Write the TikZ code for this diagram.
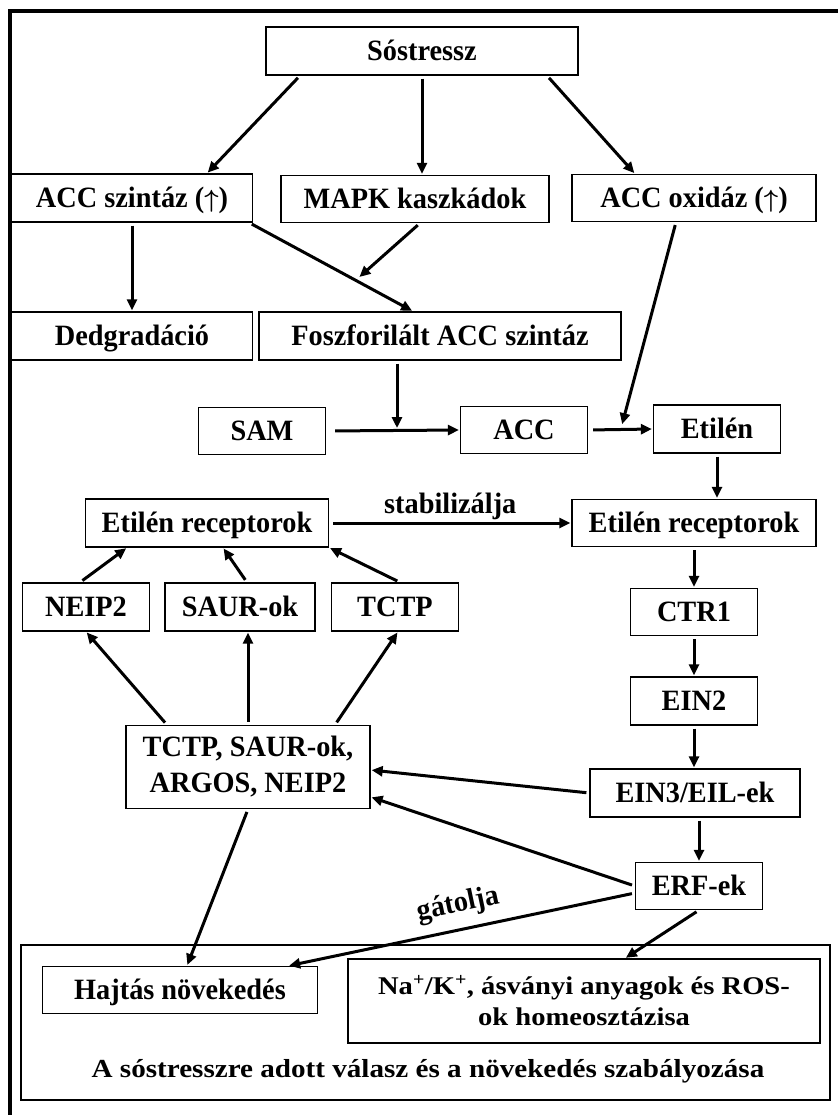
\documentclass[tikz,border=0pt]{standalone}
\usepackage{fontspec}
\usepackage{bm}
\setmainfont{Liberation Serif}[FakeStretch=0.96]
\newfontfamily\widefont{Liberation Serif}[FakeStretch=1.12]
\usetikzlibrary{arrows.meta}
\begin{document}
\begin{tikzpicture}[x=1pt,y=-1pt,
  every node/.style={font=\fontsize{29.5}{36}\selectfont\bfseries},
  box/.style={draw,line width=1.3pt,minimum height=48pt,inner sep=1pt,text height=19.5pt,text depth=0pt},
  box2/.style={draw,line width=1.3pt,inner sep=1pt,align=center},
  lbl/.style={inner sep=2pt},
  arr/.style={line width=3pt,-{Triangle[length=11pt,width=10pt]},shorten <=3pt,shorten >=1pt}]
\useasboundingbox (0,0) rectangle (837,1115);
\draw[line width=4pt] (842,11)--(10,11)--(10,1120);
\node[box,minimum width=312pt] (sos) at (422,51) {Sóstressz};
\node[box,minimum width=241pt] (accsz) at (132,198) {ACC szintáz ($\bm{\uparrow}$)};
\node[box,minimum width=268pt,minimum height=47pt] (mapk) at (415,199) {MAPK kaszkádok};
\node[box,minimum width=244pt,minimum height=47pt] (accox) at (694,198) {ACC oxidáz ($\bm{\uparrow}$)};
\node[box,minimum width=241pt] (degr) at (132,336) {Dedgradáció};
\node[box,minimum width=362pt] (foszf) at (440,336) {Foszforilált ACC szintáz};
\node[box,minimum width=127pt,minimum height=47pt] (sam) at (262,431) {SAM};
\node[box,minimum width=127pt,minimum height=47pt] (acc) at (524,430) {ACC};
\node[box,minimum width=127pt] (etil) at (717,429) {Etilén};
\node[box,minimum width=243pt] (recl) at (207,523) {Etilén receptorok};
\node[box,minimum width=244pt,minimum height=47pt] (recr) at (694,523) {Etilén receptorok};
\node[box,minimum width=127pt] (neip) at (86,607) {NEIP2};
\node[box,minimum width=150pt] (saur) at (240,607) {SAUR-ok};
\node[box,minimum width=127pt] (tctp) at (395,607) {TCTP};
\node[box,minimum width=127pt,minimum height=47pt] (ctr) at (694,612) {CTR1};
\node[box,minimum width=127pt] (ein2) at (694,701) {EIN2};
\node[box2,minimum width=244pt,minimum height=83pt] (tsan) at (248,767) {TCTP, SAUR-ok,\\ARGOS, NEIP2};
\node[box,minimum width=210pt] (ein3) at (695,793) {EIN3/EIL-ek};
\node[box,minimum width=127pt,minimum height=47pt] (erf) at (699,886) {ERF-ek};
\node[box2,minimum width=809pt,minimum height=155pt] (resp) at (425.5,1022.5) {};
\node[box,minimum width=275pt,minimum height=47pt] (hajt) at (180,990) {Hajtás növekedés};
\node[box2,minimum width=472pt,minimum height=84pt,font=\fontsize{25.5}{31}\selectfont\widefont\bfseries] (nak) at (584,1001) {Na\textsuperscript{+}/K\textsuperscript{+}, ásványi anyagok és ROS-\\ok homeosztázisa};
\node[lbl,font=\fontsize{26}{31}\selectfont\widefont\bfseries] (resplbl) at (428,1071) {A sóstresszre adott válasz és a növekedés szabályozása};
\draw[arr] ([xshift=-122pt]sos.south)--([xshift=75pt]accsz.north);
\draw[arr] (sos.south)--(sos.south |- mapk.north);
\draw[arr] ([xshift=125pt]sos.south)--([xshift=-59pt]accox.north);
\draw[arr] (accsz.south)--(degr.north);
\draw[arr] ([xshift=-4pt]accsz.south east)--coordinate[pos=.65] (j1) ([xshift=-27pt]foszf.north);
\draw[arr,shorten >=5pt] ([xshift=5pt]mapk.south)--(j1);
\coordinate (j2) at ([xshift=-43pt]foszf.south |- sam.east);
\draw[arr,shorten >=3pt] ([xshift=-43pt]foszf.south)--(j2);
\draw[arr,shorten <=9pt] (sam.east)--(acc.west);
\draw[arr,shorten <=5pt] (acc.east)--(etil.west);
\coordinate (j3) at ([xshift=-32pt]etil.west);
\draw[arr,shorten >=5pt] ([xshift=-18pt]accox.south)--(j3);
\draw[arr] (etil.south)--(etil.south |- recr.north);
\draw[arr,shorten <=4pt] (recl.east)--node[lbl,above] (stab) {stabilizálja} (recr.west);
\draw[arr] (recr.south)--(ctr.north);
\draw[arr] (ctr.south)--(ein2.north);
\draw[arr] (ein2.south)--(ein2.south |- ein3.north);
\draw[arr] (erf.north |- ein3.south)--(erf.north);
\draw[arr] ([xshift=-6pt]neip.north)--([xshift=-80pt]recl.south);
\draw[arr] ([xshift=7pt]saur.north)--([xshift=16pt]recl.south);
\draw[arr] ([xshift=5pt]tctp.north)--(recl.south east);
\draw[arr] ([xshift=-81pt]tsan.north)--(neip.south);
\draw[arr] (tsan.north)--(tsan.north |- saur.south);
\draw[arr] ([xshift=87pt]tsan.north)--([xshift=3pt]tctp.south);
\draw[arr] (ein3.west)--([yshift=-3pt]tsan.east);
\draw[arr] (erf.west)--([yshift=-30pt]tsan.east);
\draw[arr] (tsan.south)--([xshift=7pt]hajt.north);
\draw[arr] ([yshift=-7pt]erf.west)--([xshift=-30pt]hajt.north east);
\node[lbl,rotate=12] (gat) at (458,905) {gátolja};
\draw[arr] (erf.south)--([xshift=41pt]nak.north);
\end{tikzpicture}
\end{document}
